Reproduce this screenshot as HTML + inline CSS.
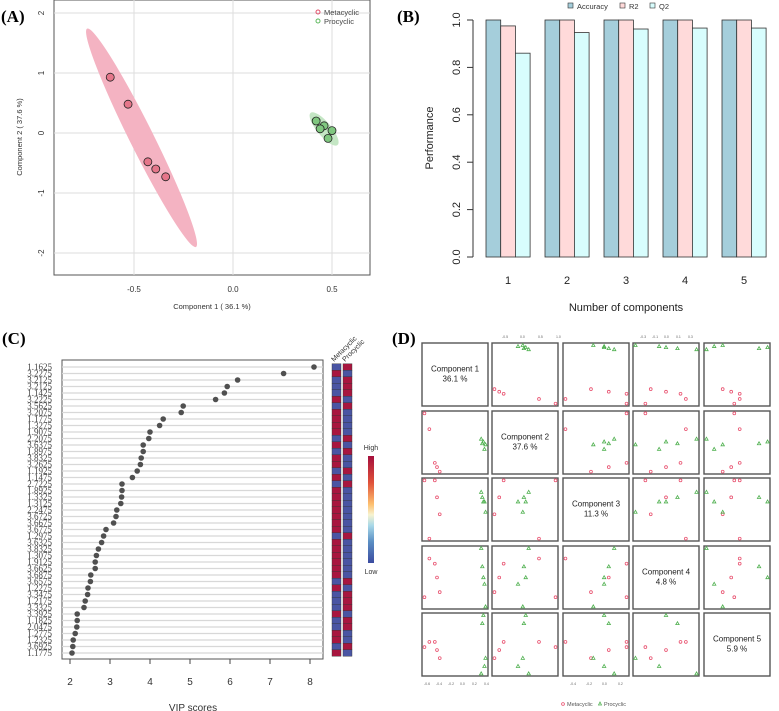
<!DOCTYPE html>
<html><head><meta charset="utf-8"><style>
body{margin:0;background:#fff;}
svg{display:block;font-family:"Liberation Sans",sans-serif;}
.pl{font-family:"Liberation Serif",serif;font-weight:bold;font-size:17px;}
</style></head><body>
<svg id="fig" width="779" height="711" viewBox="0 0 779 711" xmlns="http://www.w3.org/2000/svg">
<text class="pl" x="1" y="22">(A)</text>
<text class="pl" x="397" y="22">(B)</text>
<text class="pl" x="2" y="344">(C)</text>
<text class="pl" x="392" y="344">(D)</text>
<g id="A"></g>
<g id="B"></g>
<g id="C"></g>
<g id="D"></g>
</svg>
<script>
// ---- Panel A data
const metaC1=[-0.62,-0.53,-0.43,-0.39,-0.34];
const metaC2=[0.93,0.48,-0.48,-0.60,-0.73];
const proC1=[0.42,0.46,0.44,0.50,0.48];
const proC2=[0.20,0.12,0.07,0.04,-0.09];
const aXTicks=[-0.5,0.0,0.5];
const aYTicks=[2,1,0,-1,-2];
// ---- Panel B data
const bCats=["1","2","3","4","5"];
const bAcc=[1,1,1,1,1];
const bR2=[0.975,1,1,1,1];
const bQ2=[0.86,0.947,0.962,0.966,0.966];
const bTicks=[0,0.2,0.4,0.6,0.8,1.0];
// ---- Panel C data
const vipLabels=["1.1625","3.2275","3.2125","3.2125","1.1425","3.2225","3.5625","3.2075","1.1775","1.3275","1.9075","2.2075","3.6375","1.8975","3.8325","3.2625","1.1925","1.1475","2.7225","1.8925","1.3325","1.3125","2.2475","3.6725","3.6675","3.6775","1.2975","3.6325","3.8325","1.3075","1.9125","3.6625","3.6875","3.6575","1.2275","3.3475","1.2175","3.3325","3.3925","1.1825","2.0475","1.2775","1.2325","3.6925","1.1775"];
const vipValues=[8.1,7.34,6.19,5.93,5.86,5.64,4.83,4.78,4.33,4.24,4.0,3.97,3.83,3.83,3.78,3.76,3.68,3.56,3.30,3.30,3.29,3.27,3.17,3.15,3.09,2.90,2.84,2.79,2.71,2.66,2.63,2.63,2.52,2.51,2.45,2.44,2.38,2.35,2.18,2.18,2.17,2.13,2.08,2.07,2.05];
const heatMeta=[0,1,0,0,0,1,0,1,1,1,1,0,1,0,1,1,0,1,0,1,1,1,1,1,1,1,0,1,1,1,1,1,1,0,1,0,0,0,1,0,0,1,1,0,1];
const vipTicks=[2,3,4,5,6,7,8];
// ---- Panel D data (scores per component, 5 meta + 5 pro)
const dNames=["Component 1","Component 2","Component 3","Component 4","Component 5"];
const dPct=["36.1 %","37.6 %","11.3 %","4.8 %","5.9 %"];
const dMeta=[[-0.62,-0.53,-0.43,-0.39,-0.34],[0.93,0.48,-0.48,-0.60,-0.73],[0.29,-0.5,0.29,0.06,-0.17],[-0.27,0.26,0.19,0,-0.2],[0.04,0.11,0.11,0,-0.11]];
const dPro=[[0.42,0.44,0.46,0.48,0.50],[0.20,0.07,0.12,-0.09,0.04],[0.13,0.06,0,0,-0.14],[0.4,0.15,0,-0.09,-0.4],[-0.32,0.36,0.47,-0.22,-0.11]];

const NS="http://www.w3.org/2000/svg";
function mk(parent,tag,attrs,text){const e=document.createElementNS(NS,tag);for(const k in attrs)e.setAttribute(k,attrs[k]);if(text!==undefined)e.textContent=text;parent.appendChild(e);return e;}

// ===== Panel A
(function(){
const g=document.getElementById('A');
const X=v=>233+v*198, Y=v=>133-v*60;
mk(g,'rect',{x:54,y:0,width:316,height:275,fill:'#fff',stroke:'#555','stroke-width':1});
aXTicks.forEach(t=>{const l=mk(g,'line',{x1:X(t),x2:X(t),y1:0,y2:275,stroke:'#ddd'});
 const tx=mk(g,'text',{x:X(t),y:292,'font-size':'8','text-anchor':'middle',fill:'#333'},t.toFixed(1));});
aYTicks.forEach(t=>{mk(g,'line',{x1:54,x2:370,y1:Y(t),y2:Y(t),stroke:'#ddd'});
 const tx=mk(g,'text',{x:44,y:Y(t),'font-size':'8','text-anchor':'middle',fill:'#333',transform:`rotate(-90 44 ${Y(t)})`},String(t));});
const mean=a=>a.reduce((s,v)=>s+v,0)/a.length;
const e1=mk(g,'ellipse',{cx:X(mean(metaC1)),cy:Y(mean(metaC2)),rx:122,ry:12,fill:'#f4b3c2',transform:`rotate(63.5 ${X(mean(metaC1))} ${Y(mean(metaC2))})`});

const e2=mk(g,'ellipse',{cx:X(mean(proC1)),cy:Y(mean(proC2)),rx:21,ry:7,fill:'#c4e6c4',transform:`rotate(50 ${X(mean(proC1))} ${Y(mean(proC2))})`});

metaC1.forEach((v,i)=>{const c=mk(g,'circle',{cx:X(v),cy:Y(metaC2[i]),r:4,fill:'#e5768a',stroke:'#222','stroke-width':0.8});});
proC1.forEach((v,i)=>{const c=mk(g,'circle',{cx:X(v),cy:Y(proC2[i]),r:4,fill:'#7fc77f',stroke:'#222','stroke-width':0.8});});
mk(g,'circle',{cx:318,cy:12,r:2,fill:'none',stroke:'#e0506a'});
mk(g,'text',{x:324,y:15,'font-size':'7.5',fill:'#444'},'Metacyclic');
mk(g,'circle',{cx:318,cy:21,r:2,fill:'none',stroke:'#5cb85c'});
mk(g,'text',{x:324,y:24,'font-size':'7.5',fill:'#444'},'Procyclic');
const xl=mk(g,'text',{x:212,y:309,'font-size':'7.5','text-anchor':'middle',fill:'#333'},'Component 1 ( 36.1 %)');
const yl=mk(g,'text',{x:22,y:137,'font-size':'7.5','text-anchor':'middle',fill:'#333',transform:'rotate(-90 22 137)'},'Component 2 ( 37.6 %)');
})();

// ===== Panel B
(function(){
const g=document.getElementById('B');
const Y=v=>257-v*237, bw=14.7;
mk(g,'line',{x1:473,x2:473,y1:Y(0),y2:Y(1),stroke:'#333'});
bTicks.forEach(t=>{mk(g,'line',{x1:467,x2:473,y1:Y(t),y2:Y(t),stroke:'#333'});
 const tx=mk(g,'text',{x:460,y:Y(t),'font-size':'11','text-anchor':'middle',fill:'#222',transform:`rotate(-90 460 ${Y(t)})`},t.toFixed(1));});
const series=[[bAcc,'#a5cedb','accuracy-bar'],[bR2,'#ffdada','r2-bar'],[bQ2,'#d8fdfd','q2-bar']];
bCats.forEach((c,gi)=>{const x0=486+gi*59;
 series.forEach((s,si)=>{const v=s[0][gi];const r=mk(g,'rect',{x:x0+si*bw,y:Y(v),width:bw,height:Y(0)-Y(v),fill:s[1],stroke:'#333','stroke-width':0.8});});
 const tx=mk(g,'text',{x:x0+bw*1.5,y:284,'font-size':'11','text-anchor':'middle',fill:'#222'},c);});
const xl=mk(g,'text',{x:626,y:311,'font-size':'11','text-anchor':'middle',fill:'#222'},'Number of components');
const yl=mk(g,'text',{x:433,y:138,'font-size':'11','text-anchor':'middle',fill:'#222',transform:'rotate(-90 433 138)'},'Performance');
[['#a5cedb','Accuracy',568],['#ffdada','R2',620],['#d8fdfd','Q2',650]].forEach(l=>{
 const r=mk(g,'rect',{x:l[2],y:3,width:5,height:5,fill:l[0],stroke:'#333','stroke-width':0.6});
 const t=mk(g,'text',{x:l[2]+9,y:9,'font-size':'7.5',fill:'#333'},l[1]);});
})();

// ===== Panel C
(function(){
const g=document.getElementById('C');
const X=v=>70+(v-2)*40, Yr=i=>367+i*6.5;
mk(g,'rect',{x:62,y:360,width:261,height:299,fill:'#fff',stroke:'#555'});
vipValues.forEach((v,i)=>{
 mk(g,'line',{x1:62,x2:323,y1:Yr(i),y2:Yr(i),stroke:'#d8d8d8','stroke-width':1.3});
 const lb=mk(g,'text',{x:52,y:Yr(i)+3,'font-size':'9','text-anchor':'end',fill:'#444','font-family':'Liberation Serif, serif'},vipLabels[i]);
 const c=mk(g,'circle',{cx:X(v),cy:Yr(i),r:2.8,fill:'#505050'});
 const hm=heatMeta[i];
 const a=mk(g,'rect',{x:332,y:Yr(i)-3.25,width:9,height:6.5,fill:hm?'#a8163f':'#4a55a3',stroke:'#333','stroke-width':0.4});
 const b=mk(g,'rect',{x:343,y:Yr(i)-3.25,width:9,height:6.5,fill:hm?'#4a55a3':'#a8163f',stroke:'#333','stroke-width':0.4});
});
vipTicks.forEach(t=>{mk(g,'line',{x1:X(t),x2:X(t),y1:659,y2:664,stroke:'#444'});
 const tx=mk(g,'text',{x:X(t),y:685,'font-size':'10','text-anchor':'middle',fill:'#333'},String(t));});
const xl=mk(g,'text',{x:193,y:711,'font-size':'10','text-anchor':'middle',fill:'#333'},'VIP scores');
mk(g,'text',{x:334,y:362,'font-size':'7','fill':'#333',transform:'rotate(-45 334 362)'},'Metacyclic');
mk(g,'text',{x:345,y:362,'font-size':'7','fill':'#333',transform:'rotate(-45 345 362)'},'Procyclic');
const defs=mk(g,'defs',{});const lg=mk(defs,'linearGradient',{id:'hl',x1:0,y1:0,x2:0,y2:1});
[['0','#a50f3c'],['0.25','#e0523a'],['0.45','#fdbf6f'],['0.55','#f7f3d0'],['0.65','#a8d8e8'],['0.8','#5b8fc4'],['1','#3b4ba0']].forEach(s=>mk(lg,'stop',{offset:s[0],'stop-color':s[1]}));
const cb=mk(g,'rect',{x:368,y:456,width:6,height:107,fill:'url(#hl)'});
mk(g,'text',{x:371,y:450,'font-size':'7','text-anchor':'middle',fill:'#333'},'High');
mk(g,'text',{x:371,y:574,'font-size':'7','text-anchor':'middle',fill:'#333'},'Low');
})();

// ===== Panel D
(function(){
const g=document.getElementById('D');
const cx=[422,492,563,633,704], cy=[343,411,478,546,613], W=66, H=63;
const rng=k=>{const all=dMeta[k].concat(dPro[k]);const mn=Math.min(...all),mx=Math.max(...all);const p=(mx-mn)*0.04;return [mn-p,mx+p];};
const R=dNames.map((_,k)=>rng(k));
for(let i=0;i<5;i++)for(let j=0;j<5;j++){
 const x0=cx[j],y0=cy[i];
 const cell=mk(g,'rect',{x:x0,y:y0,width:W,height:H,fill:'#fff',stroke:'#555','stroke-width':1.4});
 
 if(i===j){
  mk(g,'text',{x:x0+W/2,y:y0+H/2-3,'font-size':'8','text-anchor':'middle',fill:'#222'},dNames[i]);
  mk(g,'text',{x:x0+W/2,y:y0+H/2+7,'font-size':'8','text-anchor':'middle',fill:'#222'},dPct[i]);
  continue;}
 const X=v=>x0+(v-R[j][0])/(R[j][1]-R[j][0])*W, Y=v=>y0+H-(v-R[i][0])/(R[i][1]-R[i][0])*H;
 dMeta[j].forEach((v,s)=>{const c=mk(g,'circle',{cx:X(v),cy:Y(dMeta[i][s]),r:1.4,fill:'none',stroke:'#e8506e','stroke-width':0.8});});
 dPro[j].forEach((v,s)=>{const px=X(v),py=Y(dPro[i][s]);const t=mk(g,'polygon',{points:`${px},${py-1.8} ${px-1.7},${py+1.2} ${px+1.7},${py+1.2}`,fill:'none',stroke:'#4fb04f','stroke-width':0.8});});
}
mk(g,'circle',{cx:563,cy:704,r:1.4,fill:'none',stroke:'#e8506e','stroke-width':0.8});
mk(g,'text',{x:567,y:706,'font-size':'5.5',fill:'#555'},'Metacyclic');
mk(g,'polygon',{points:'600,702 598.5,705 601.5,705',fill:'none',stroke:'#4fb04f','stroke-width':0.8});
mk(g,'text',{x:604,y:706,'font-size':'5.5',fill:'#555'},'Procyclic');
['-0.6','-0.4','-0.2','0.0','0.2','0.4'].forEach((t,k)=>mk(g,'text',{x:424+k*12,y:685,'font-size':'3.5',fill:'#666'},t));
['-0.5','0.0','0.5','1.0'].forEach((t,k)=>mk(g,'text',{x:502+k*18,y:338,'font-size':'3.5',fill:'#666'},t));
['-0.4','-0.2','0.0','0.2'].forEach((t,k)=>mk(g,'text',{x:570+k*16,y:685,'font-size':'3.5',fill:'#666'},t));
['-0.3','-0.1','0.0','0.1','0.3'].forEach((t,k)=>mk(g,'text',{x:640+k*12,y:338,'font-size':'3.5',fill:'#666'},t));
})();
</script>
</body></html>
